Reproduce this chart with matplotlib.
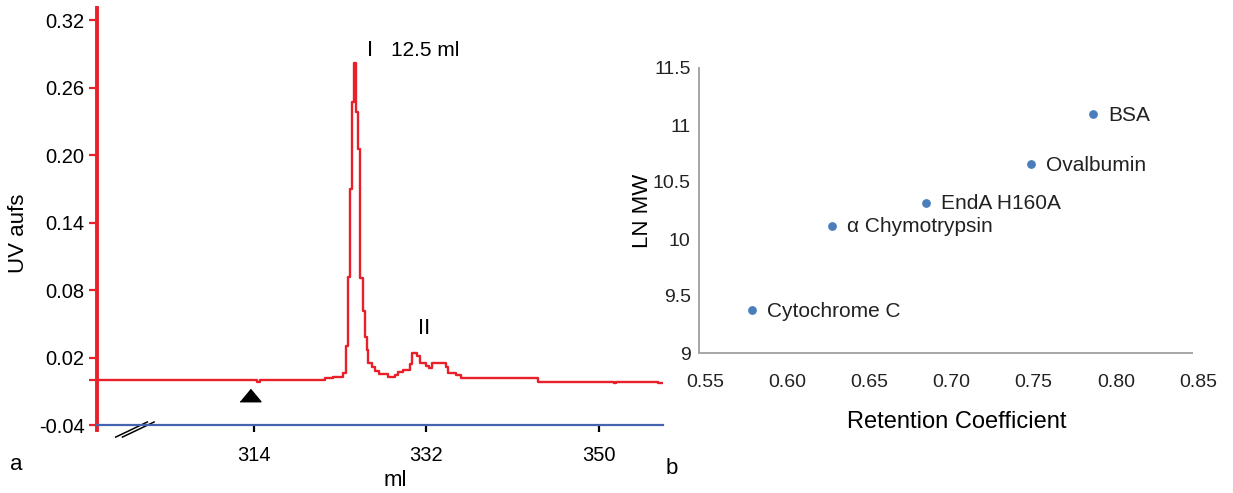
import matplotlib.pyplot as plt
from matplotlib.transforms import ScaledTranslation

# chromatogram (step trace), ml vs UV aufs
ml = [297.6, 314.3, 314.6, 321.4, 322.3, 323.3, 323.66, 323.8, 324.07, 324.28,
      324.49, 324.7, 324.9, 325.1, 325.4, 325.6, 325.8, 325.9, 326.3, 326.6,
      327.1, 328.0, 328.7, 329.0, 329.6, 330.25, 330.5, 331.0, 331.3, 332.0,
      332.3, 332.6, 334.0, 334.2, 335.1, 335.6, 343.6, 351.6, 351.8, 356.1, 356.6]
uv = [0.0, -0.002, 0.0, 0.0015, 0.003, 0.0065, 0.03, 0.092, 0.170, 0.247,
      0.282, 0.238, 0.205, 0.091, 0.061, 0.038, 0.027, 0.015, 0.012, 0.008,
      0.005, 0.003, 0.0044, 0.0074, 0.009, 0.014, 0.024, 0.021, 0.015, 0.0124,
      0.0104, 0.015, 0.012, 0.0065, 0.0044, 0.0015, -0.0015, -0.003, -0.0015, -0.003, -0.003]
uv_ticks = [-0.04, 0.02, 0.08, 0.14, 0.20, 0.26, 0.32]
ml_ticks = [314, 332, 350]
inject_ml = 313.6
inject_uv = -0.0133

# calibration
proteins = ['BSA', 'Ovalbumin', 'EndA H160A', 'α Chymotrypsin', 'Cytochrome C']
ret_coef = [0.790, 0.752, 0.688, 0.631, 0.582]
ln_mw = [11.094, 10.656, 10.318, 10.118, 9.376]
rc_ticks = [0.55, 0.60, 0.65, 0.70, 0.75, 0.80, 0.85]
mw_ticks = [9, 9.5, 10, 10.5, 11, 11.5]

plt.rcParams['font.family'] = ['Liberation Sans', 'DejaVu Sans']
W, H = 1233, 493
fig = plt.figure(figsize=(W / 100, H / 100), dpi=100)

def px(x, y):
    return x / W, 1 - y / H

red = '#e8202a'
blue = '#4464b0'

# ---- panel a ----
ax = fig.add_axes([97 / W, 1 - 430 / H, (663 - 97) / W, 422 / H])
ax.plot(ml, uv, drawstyle='steps-post', color=red, linewidth=1.7)
ax.plot([inject_ml], [inject_uv], marker=[(-1, -0.6), (1, -0.6), (0, 0.6)],
        markersize=15, color='black', linestyle='none')
ax.set_xlim(297.65, 356.67)
ax.set_ylim(-0.0444, 0.3307)
ax.spines['top'].set_visible(False)
ax.spines['right'].set_visible(False)
ax.spines['bottom'].set_position(('data', -0.04))
ax.spines['bottom'].set_color(blue)
ax.spines['bottom'].set_linewidth(1.6)
ax.spines['left'].set_color(red)
ax.spines['left'].set_linewidth(2.8)
ax.set_yticks(uv_ticks)
ax.set_yticklabels(['%.2f' % v for v in uv_ticks])
ax.set_yticks([0.0], minor=True)
ax.set_xticks(ml_ticks)
ax.tick_params(axis='y', which='both', direction='out', length=6, width=1.6,
               color=red, labelsize=14.5, pad=3)
ax.tick_params(axis='x', direction='out', length=5, width=1.6, color='black',
               labelsize=14.5, pad=10)
# axis break marks
for dx in (0, 0.7):
    ax.plot([299.6 + dx, 302.9 + dx], [-0.0507, -0.0373], color='black',
            linewidth=1.1, clip_on=False)

fig.text(*px(18, 233), 'UV aufs', rotation=90, fontsize=16, ha='center', va='center')
fig.text(*px(395, 480), 'ml', fontsize=16, ha='center', va='center')
fig.text(*px(370, 50), 'I', fontsize=16, ha='center', va='center')
fig.text(*px(391, 50), '12.5 ml', fontsize=15, ha='left', va='center')
fig.text(*px(424, 328), 'II', fontsize=16, ha='center', va='center')
fig.text(*px(16, 464), 'a', fontsize=16, ha='center', va='center')
fig.text(*px(672, 468), 'b', fontsize=16, ha='center', va='center')

# ---- panel b ----
ax2 = fig.add_axes([699 / W, 1 - 353 / H, 493 / W, 285 / H])
ax2.scatter(ret_coef, ln_mw, s=28, color='#4a7ebb', zorder=3)
for name, x, y in zip(proteins, ret_coef, ln_mw):
    ax2.annotate(name, (x, y), xytext=(15, -1), textcoords='offset pixels',
                 fontsize=15, va='center', ha='left', color='#222222')
ax2.set_xlim(0.55, 0.85)
ax2.set_ylim(9, 11.5)
ax2.set_xticks(rc_ticks)
ax2.set_xticklabels(['%.2f' % v for v in rc_ticks])
ax2.set_yticks(mw_ticks)
ax2.set_yticklabels(['%g' % v for v in mw_ticks])
for s in ['top', 'right']:
    ax2.spines[s].set_visible(False)
for s in ['left', 'bottom']:
    ax2.spines[s].set_color('#a6a6a6')
    ax2.spines[s].set_linewidth(1.4)
ax2.tick_params(axis='both', length=0, labelsize=14, labelcolor='#222222')
ax2.tick_params(axis='x', pad=15)
ax2.tick_params(axis='y', pad=6)
for lab in ax2.get_xticklabels():
    lab.set_transform(lab.get_transform() + ScaledTranslation(0.06, 0, fig.dpi_scale_trans))
fig.text(*px(642, 211), 'LN MW', rotation=90, fontsize=16, ha='center', va='center')
fig.text(*px(957, 422), 'Retention Coefficient', fontsize=17, ha='center', va='center')

plt.savefig('out.png', dpi=100)
